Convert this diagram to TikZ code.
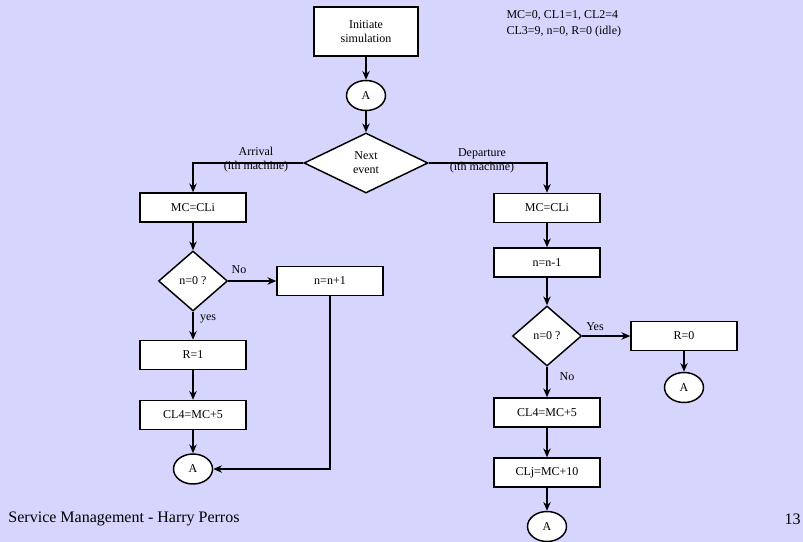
\documentclass[tikz,border=0pt]{standalone}
\usepackage{fontspec}
\setmainfont{Liberation Serif}
\usetikzlibrary{shapes.geometric,arrows.meta}
\definecolor{slidebg}{RGB}{213,213,253}
\tikzset{every picture/.style={line width=0.75pt}}
\tikzset{
	procbox/.style={draw=black, fill=white, line width=1.1pt, minimum width=79.5pt, minimum height=21.75pt, inner sep=0pt, font=\fontsize{9}{10.5}\selectfont},
	decision/.style={diamond, aspect=2, draw=black, fill=white, line width=1.1pt, minimum width=51.75pt, minimum height=45pt, inner sep=0pt, align=center, font=\fontsize{9}{10.5}\selectfont},
	connector/.style={ellipse, draw=black, fill=white, line width=1.1pt, minimum width=29.25pt, minimum height=22.5pt, inner sep=0pt, font=\fontsize{9}{10.5}\selectfont},
	flow/.style={line width=1.1pt, -{Stealth[length=6.5pt,width=5.5pt,inset=2pt]}},
	textlabel/.style={inner sep=0pt, align=center, font=\fontsize{9}{10.5}\selectfont}}

\begin{document}
\begin{tikzpicture}[x=0.75pt,y=0.75pt,yscale=-1,xscale=1]
	%Shape: Slide background
	\fill[slidebg] (0,0) rectangle (803,542);
	\useasboundingbox (0,0) rectangle (803,542);

	%Shape: Rectangle [id:init]
	\node[procbox, minimum width=78pt, minimum height=36.75pt, align=center] (init) at (366,31.5) {Initiate\\simulation};
	%Shape: Ellipse [id:a1]
	\node[connector] (a1) at (366,95.5) {A};
	%Shape: Diamond [id:next]
	\node[decision, minimum width=93pt] (next) at (366,163) {Next\\event};

	%Shape: Rectangle [id:mcA]
	\node[procbox] (mcA) at (193,207.5) {MC=CLi};
	%Shape: Diamond [id:testA]
	\node[decision] (testA) at (193,281) {n=0 ?};
	%Shape: Rectangle [id:incr]
	\node[procbox] (incr) at (330,281) {n=n+1};
	%Shape: Rectangle [id:r1]
	\node[procbox] (r1) at (193,355) {R=1};
	%Shape: Rectangle [id:cl4A]
	\node[procbox] (cl4A) at (193,415) {CL4=MC+5};
	%Shape: Ellipse [id:endA]
	\node[connector] (endA) at (193,469) {A};

	%Shape: Rectangle [id:mcB]
	\node[procbox] (mcB) at (547,208) {MC=CLi};
	%Shape: Rectangle [id:decB]
	\node[procbox] (decB) at (547,262.5) {n=n-1};
	%Shape: Diamond [id:testB]
	\node[decision] (testB) at (547,336) {n=0 ?};
	%Shape: Rectangle [id:r0]
	\node[procbox] (r0) at (684,336) {R=0};
	%Shape: Ellipse [id:endR]
	\node[connector] (endR) at (684,387.5) {A};
	%Shape: Rectangle [id:cl4B]
	\node[procbox] (cl4B) at (547,412.5) {CL4=MC+5};
	%Shape: Rectangle [id:cljB]
	\node[procbox] (cljB) at (547,472.5) {CLj=MC+10};
	%Shape: Ellipse [id:endB]
	\node[connector] (endB) at (547,526.5) {A};

	%Straight Lines
	\draw[flow] (init) -- (a1);
	\draw[flow] (a1) -- (next);
	\draw[flow] (next.west) -| (mcA.north);
	\draw[flow] (next.east) -| (mcB.north);
	\draw[flow] (mcA) -- (testA);
	\draw[flow] (testA.east) -- (incr.west);
	\draw[flow] (testA) -- (r1);
	\draw[flow] (r1) -- (cl4A);
	\draw[flow] (cl4A) -- (endA);
	\draw[flow] (incr.south) |- (endA.east);
	\draw[flow] (mcB) -- (decB);
	\draw[flow] (decB) -- (testB);
	\draw[flow] (testB.east) -- (r0.west);
	\draw[flow] (r0) -- (endR);
	\draw[flow] (testB) -- (cl4B);
	\draw[flow] (cl4B) -- (cljB);
	\draw[flow] (cljB) -- (endB);

	% Text Node
	\node[textlabel] (arrlbl) at (256,160) {Arrival\\(ith machine)};
	% Text Node
	\node[textlabel] (deplbl) at (482,161) {Departure\\(ith machine)};
	% Text Node
	\node[textlabel] (noA) at (239,270) {No};
	% Text Node
	\node[textlabel] (yesA) at (208,319) {yes};
	% Text Node
	\node[textlabel] (yesB) at (595,327) {Yes};
	% Text Node
	\node[textlabel] (noB) at (567,377) {No};
	% Text Node
	\node[textlabel, align=left, anchor=west, font=\fontsize{9}{12}\selectfont] (initlbl) at (506,24) {MC=0, CL1=1, CL2=4\\CL3=9, n=0, R=0 (idle)};
	% Text Node
	\node[textlabel, anchor=west, font=\fontsize{12}{14}\selectfont] (footer) at (8,519) {Service Management - Harry Perros};
	% Text Node
	\node[textlabel, anchor=east, font=\fontsize{12}{14}\selectfont] (pageno) at (801,519) {13};

\end{tikzpicture}
\end{document}
